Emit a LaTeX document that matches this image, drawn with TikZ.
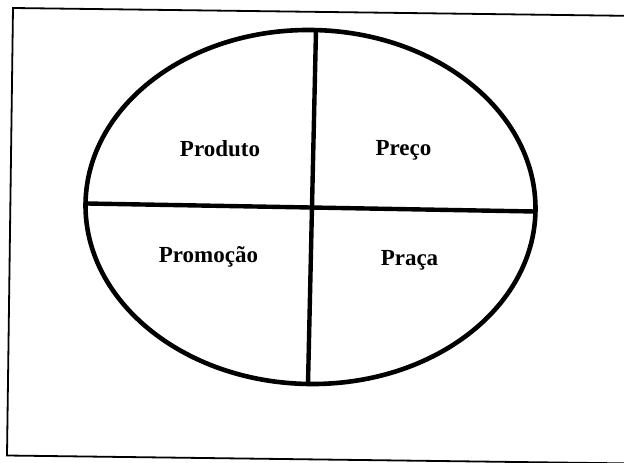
\documentclass[tikz,border=0pt]{standalone}
\usepackage{fontspec}
\setmainfont{Liberation Serif}
\begin{document}
\begin{tikzpicture}[x=1pt,y=-1pt,
  lbl/.style={font=\bfseries\fontsize{23}{27}\selectfont, inner sep=0pt, anchor=base},
  frameline/.style={line width=1.8pt, line join=miter},
  ovalline/.style={line width=4.6pt},
  crossline/.style={line width=4.4pt}]
\useasboundingbox (0,0) rectangle (624,463);
\clip (0,0) rectangle (624,463);
% frame (slightly tilted, running off the right and bottom)
\coordinate (tl) at (13,8);
\coordinate (bl) at (7,455.5);
\coordinate (tr) at (680,16.5);
\coordinate (br) at (674,464);
\draw[frameline] (tr) -- (tl) -- (bl) -- (br);
% oval
\coordinate (c) at (310.5,207);
\draw[ovalline] (c) ellipse [x radius=225pt, y radius=177pt, rotate=-1];
% cross
\coordinate (vt) at (316,30);
\coordinate (vb) at (308,384);
\coordinate (hl) at (87,203.5);
\coordinate (hr) at (535,211.5);
\draw[crossline] (vt) -- (vb);
\draw[crossline] (hl) -- (hr);
% labels
\node[lbl] (produto) at (220,156) {Produto};
\node[lbl] (preco) at (403.5,155.5) {Preço};
\node[lbl] (promocao) at (208.5,262) {Promoção};
\node[lbl] (praca) at (409.5,265) {Praça};
\end{tikzpicture}
\end{document}
